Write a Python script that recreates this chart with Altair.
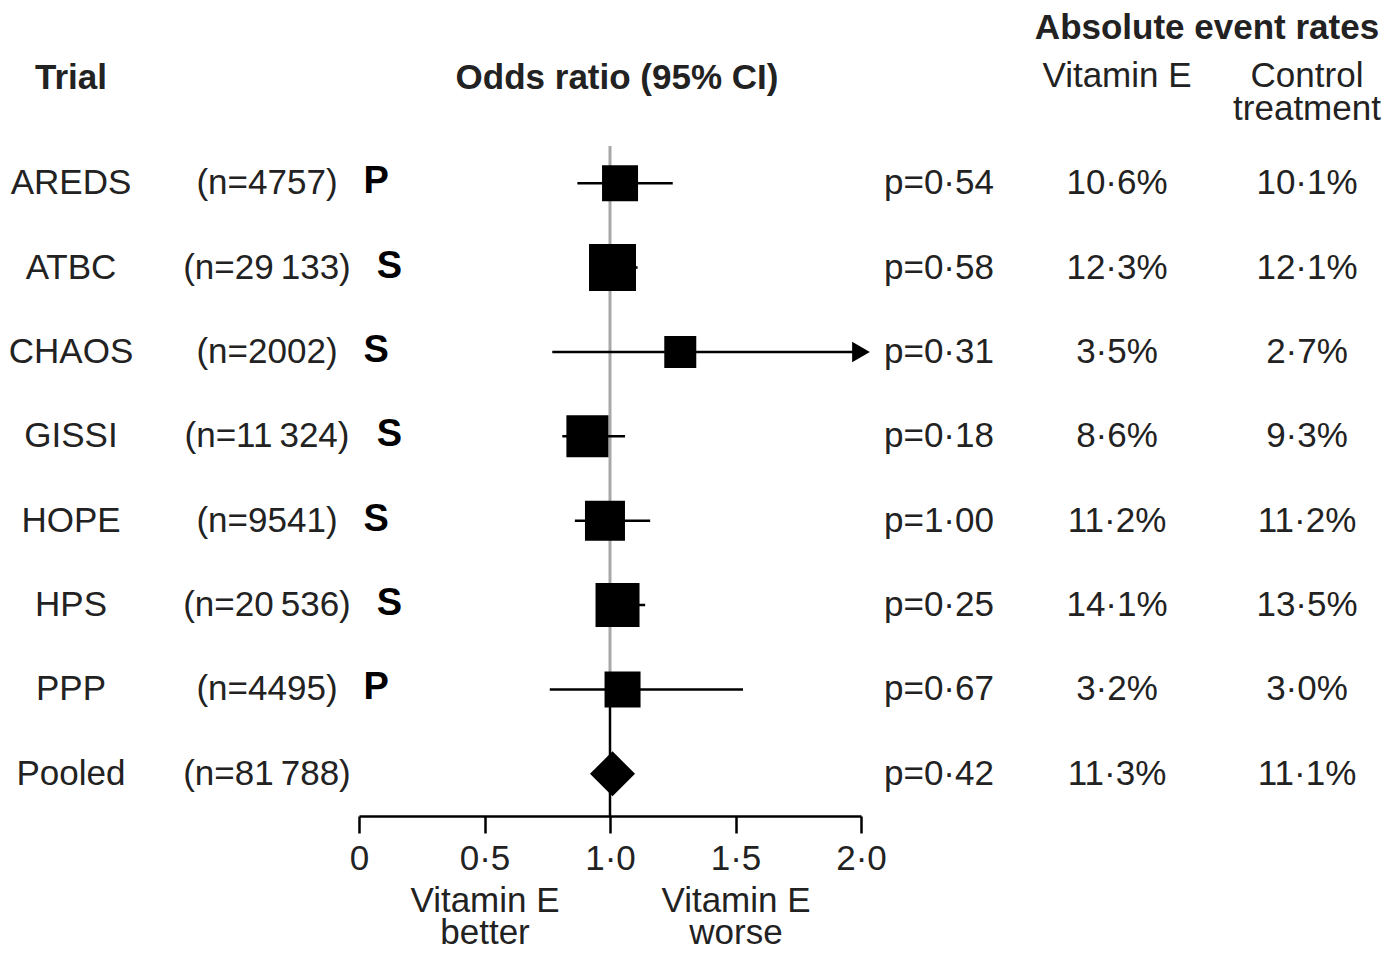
import altair as alt
import pandas as pd

# ---- data ----
trials = ["AREDS", "ATBC", "CHAOS", "GISSI", "HOPE", "HPS", "PPP", "Pooled"]
n_labels = ["(n=4757)", "(n=29\u2009133)", "(n=2002)", "(n=11\u2009324)",
            "(n=9541)", "(n=20\u2009536)", "(n=4495)", "(n=81\u2009788)"]
design = ["P", "S", "S", "S", "S", "S", "P", ""]
odds_ratio = [1.04, 1.01, 1.28, 0.91, 0.98, 1.03, 1.05, 1.01]
ci_low = [0.87, 0.92, 0.77, 0.81, 0.86, 0.96, 0.76, 0.92]
ci_high = [1.25, 1.11, 2.00, 1.06, 1.16, 1.14, 1.53, 1.10]
ci_truncated = [False, False, True, False, False, False, False, False]
weight = [1296, 2209, 1024, 1764, 1600, 1936, 1296, 2025]  # marker area
p_values = ["p=0·54", "p=0·58", "p=0·31", "p=0·18", "p=1·00", "p=0·25", "p=0·67", "p=0·42"]
rate_vitamin_e = ["10·6%", "12·3%", "3·5%", "8·6%", "11·2%", "14·1%", "3·2%", "11·3%"]
rate_control = ["10·1%", "12·1%", "2·7%", "9·3%", "11·2%", "13·5%", "3·0%", "11·1%"]
tick_values = [0, 0.5, 1.0, 1.5, 2.0]

df = pd.DataFrame({
    "row": list(range(len(trials))),
    "trial": trials, "n": n_labels, "design": design,
    "odds": odds_ratio, "lo": ci_low, "hi": ci_high,
    "trunc": ci_truncated, "weight": weight,
    "p": p_values, "ve": rate_vitamin_e, "ctrl": rate_control,
})
df["kind"] = ["study"] * 7 + ["pooled"]

FONT = "Liberation Sans"
TXT = "#222222"
FS = 35

AX = alt.Axis(values=tick_values, title=None, grid=False,
              domainColor="black", domainWidth=2.5, tickColor="black",
              tickWidth=2.5, tickSize=17, labelFont=FONT, labelFontSize=FS,
              labelColor=TXT, labelPadding=8, labelFlush=False,
              labelOverlap=False, labelBound=False,
              labelExpr="datum.value == 0 ? '0' : replace(format(datum.value, '.1f'), '.', '·')")
XS = alt.Scale(domain=[0, 2], nice=False, zero=False)
YS = alt.Scale(domain=[-0.5, 7.5], reverse=True, nice=False, zero=False)

base = alt.Chart(df)

# reference line at OR = 1
ref_gray = alt.Chart(pd.DataFrame({"a": [-0.44], "b": [6.0]})).mark_rule(
    color="#a8a8a8", strokeWidth=3).encode(
    x=alt.XDatum(1.0, axis=AX, scale=XS),
    y=alt.Y("a:Q", scale=YS, axis=None), y2="b:Q")
ref_black = alt.Chart(pd.DataFrame({"a": [6.0], "b": [7.5]})).mark_rule(
    color="black", strokeWidth=2.5).encode(
    x=alt.XDatum(1.0, axis=AX, scale=XS),
    y=alt.Y("a:Q", scale=YS, axis=None), y2="b:Q")

ci = base.transform_filter("datum.kind == 'study'").mark_rule(
    color="black", strokeWidth=2.5).encode(
    x=alt.X("lo:Q", scale=XS, axis=AX), x2="hi:Q",
    y=alt.Y("row:Q", scale=YS, axis=None))

arrow = base.transform_filter("datum.trunc").mark_point(
    shape="triangle-right", filled=True, color="black", opacity=1, size=420).encode(
    x=alt.X("hi:Q", scale=XS, axis=AX),
    y=alt.Y("row:Q", scale=YS, axis=None))

squares = base.transform_filter("datum.kind == 'study'").mark_point(
    shape="square", filled=True, color="black", opacity=1, strokeWidth=0).encode(
    x=alt.X("odds:Q", scale=XS, axis=AX),
    y=alt.Y("row:Q", scale=YS, axis=None),
    size=alt.Size("weight:Q", scale=None))

diamond = base.transform_filter("datum.kind == 'pooled'").mark_point(
    shape="diamond", filled=True, color="black", opacity=1, strokeWidth=0).encode(
    x=alt.X("odds:Q", scale=XS, axis=AX),
    y=alt.Y("row:Q", scale=YS, axis=None),
    size=alt.Size("weight:Q", scale=None))


def col_text(field, xpx, align="center", **kw):
    return base.mark_text(font=FONT, fontSize=FS, color=TXT, align=align,
                          baseline="middle", **kw).encode(
        x=alt.value(xpx), y=alt.Y("row:Q", scale=YS, axis=None),
        text=f"{field}:N")


# plot origin is at page x=359; columns positioned relative to it
t_trial = col_text("trial", -288)
t_n = col_text("n", -92)
t_p = col_text("p", 525, align="left")
t_ve = col_text("ve", 758)
t_ctrl = col_text("ctrl", 948)

# design letters placed just after the n label
W = {"(": .333, ")": .333, "n": .556, "=": .584, "\u2009": .2}
letter_layers = []
for i, (nl, d) in enumerate(zip(n_labels, design)):
    if not d:
        continue
    w = sum(W.get(c, .556) for c in nl) * FS
    xl = -92 + w / 2 + 26
    letter_layers.append(
        base.transform_filter(f"datum.row == {i}").mark_text(
            font=FONT, fontSize=38, fontWeight="bold", color="black",
            align="left", baseline="middle", dy=-1).encode(
            x=alt.value(xl), y=alt.Y("row:Q", scale=YS, axis=None),
            text="design:N"))

# headers
hdr = pd.DataFrame({
    "txt": ["Trial", "Odds ratio (95% CI)", "Absolute event rates"],
    "x": [-288, 258, 848], "y": [-63, -63, -113]})
headers = [
    alt.Chart(hdr.iloc[[k]]).mark_text(font=FONT, fontSize=FS, fontWeight="bold",
                                       color=TXT, align="center", baseline="middle").encode(
        x=alt.value(float(hdr.x[k])), y=alt.value(float(hdr.y[k])), text="txt:N")
    for k in range(len(hdr))]

sub = pd.DataFrame({"txt": ["Vitamin E", "Control\ntreatment"],
                    "x": [758, 948]})
subheaders = [
    alt.Chart(sub.iloc[[k]]).mark_text(font=FONT, fontSize=FS, color=TXT, align="center",
                                       baseline="top", lineBreak="\n", lineHeight=33).encode(
        x=alt.value(float(sub.x[k])), y=alt.value(-82), text="txt:N")
    for k in range(len(sub))]

foot = pd.DataFrame({"txt": ["Vitamin E\nbetter", "Vitamin E\nworse"], "x": [126, 377]})
footers = [
    alt.Chart(foot.iloc[[k]]).mark_text(font=FONT, fontSize=FS, color=TXT, align="center",
                                        baseline="top", lineBreak="\n", lineHeight=32).encode(
        x=alt.value(float(foot.x[k])), y=alt.value(743), text="txt:N")
    for k in range(len(foot))]

chart = alt.layer(
    ref_gray, ref_black, ci, arrow, squares, diamond,
    t_trial, t_n, t_p, t_ve, t_ctrl, *letter_layers, *headers, *subheaders, *footers
).properties(
    width=502, height=675,
    autosize=alt.AutoSizeParams(type="none"),
    padding={"left": 351, "top": 133, "right": 524, "bottom": 129},
    background="white",
).configure_view(stroke=None)

chart.save("out.html", embed_options={"renderer": "svg", "actions": False})
